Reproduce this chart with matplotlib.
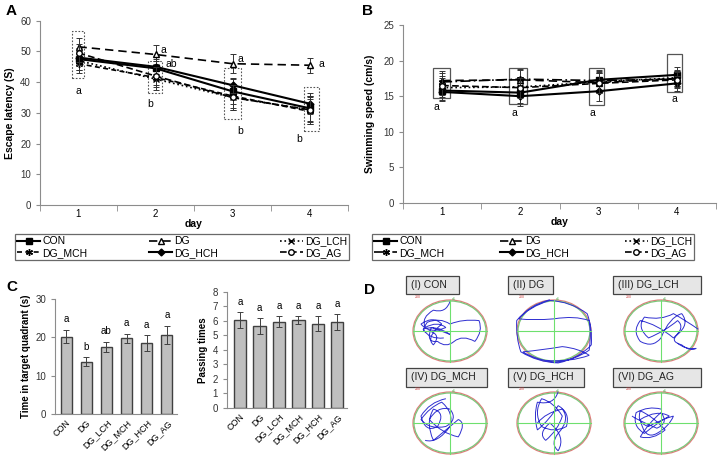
import matplotlib
matplotlib.use("Agg")
import matplotlib.pyplot as plt
from matplotlib.patches import Rectangle, Ellipse, PathPatch
from matplotlib.path import Path
import numpy as np

plt.rcParams['font.family'] = ['Liberation Sans', 'DejaVu Sans']

# ---------------- data ----------------
groups = ["CON", "DG", "DG_LCH", "DG_MCH", "DG_HCH", "DG_AG"]
days = [1, 2, 3, 4]

# Panel A: escape latency (s)
lat_con = [47.5, 44.5, 37.0, 31.5]
lat_dg = [51.5, 49.0, 46.0, 45.5]
lat_lch = [47.0, 41.0, 35.0, 31.0]
lat_mch = [46.0, 41.5, 35.5, 30.5]
lat_hch = [48.0, 45.0, 39.0, 33.0]
lat_ag = [49.5, 42.0, 35.0, 31.0]
lat_err_con = [3.5, 2.5, 4.0, 4.0]
lat_err_dg = [3.0, 3.0, 3.0, 2.5]
lat_err_lch = [3.0, 3.5, 4.0, 4.0]
lat_err_mch = [3.0, 3.0, 4.0, 4.0]
lat_err_hch = [2.5, 2.5, 2.5, 3.5]
lat_err_ag = [3.0, 3.0, 4.0, 4.5]

# Panel B: swimming speed (cm/s)
spd_con = [15.8, 15.5, 17.3, 18.0]
spd_dg = [17.2, 17.3, 16.9, 17.5]
spd_lch = [16.2, 16.3, 17.0, 17.6]
spd_mch = [17.0, 17.4, 17.2, 17.4]
spd_hch = [15.6, 15.0, 15.7, 16.8]
spd_ag = [16.5, 16.2, 16.8, 17.3]
spd_err = [1.3, 1.4, 1.4, 1.1]

# Panel C
time_target = [20.2, 13.6, 17.6, 19.8, 18.5, 20.6]
time_err = [1.8, 1.2, 1.3, 1.2, 2.0, 2.3]
time_letters = ["a", "b", "ab", "a", "a", "a"]
passing = [6.05, 5.65, 5.95, 6.05, 5.8, 5.92]
passing_err = [0.55, 0.55, 0.35, 0.25, 0.5, 0.55]
passing_letters = ["a", "a", "a", "a", "a", "a"]

# Panel D swim paths (normalised pool coordinates)
path_con = [(0.0,0.85),(-0.1,0.5),(-0.4,0.6),(-0.7,0.4),(-0.6,0.1),(-0.3,0.3),(-0.1,0.1),(-0.5,-0.1),
            (-0.7,0.2),(-0.4,0.45),(-0.2,0.2),(-0.6,-0.2),(-0.4,-0.4),(-0.2,-0.1),(-0.5,0.0),(-0.75,-0.1),
            (-0.55,0.25),(-0.25,0.4),(0.0,0.2),(0.3,0.35),(0.7,0.3),(0.8,0.0),(0.6,-0.3),(0.3,-0.1),
            (0.1,-0.3),(-0.1,-0.5),(-0.3,-0.3),(-0.6,-0.35),(-0.45,0.1),(-0.2,0.0),(0.0,-0.1),
            (-0.35,0.2),(-0.65,0.05),(-0.5,-0.25),(-0.15,-0.2)]
path_dg = [(-0.1,0.9),(-0.6,0.75),(-0.9,0.3),(-0.92,-0.2),(-0.8,-0.6),(-0.4,-0.9),(0.1,-0.92),(0.6,-0.8),
           (0.9,-0.4),(0.93,0.1),(0.8,0.5),(0.4,0.85),(-0.1,0.88),(-0.6,0.7),(-0.85,0.35),(-0.5,0.3),
           (0.0,0.35),(0.5,0.45),(0.85,0.3),(0.9,-0.1),(0.85,-0.55),(0.5,-0.85),(0.0,-0.9),(-0.5,-0.8),
           (-0.75,-0.6),(-0.3,-0.55),(0.2,-0.45),(0.6,-0.5),(0.85,-0.7),(0.4,-0.9),(-0.2,-0.85)]
path_lch = [(0.9,0.05),(0.6,0.3),(0.3,0.5),(0.0,0.3),(-0.4,0.4),(-0.6,0.1),(-0.3,-0.2),(0.1,0.0),
            (0.4,0.3),(0.6,0.1),(0.3,-0.2),(-0.1,0.2),(-0.5,0.3),(-0.7,0.0),(-0.5,-0.3),(-0.2,-0.5),
            (0.0,-0.2),(0.2,0.4),(0.5,0.5),(0.7,0.2),(0.4,-0.1),(0.2,-0.3),(0.5,-0.4),(0.7,-0.6),
            (0.85,-0.5),(0.6,-0.55),(0.4,-0.35)]
path_mch = [(-0.1,0.7),(-0.5,0.6),(-0.7,0.2),(-0.6,-0.3),(-0.3,-0.1),(-0.1,0.3),(-0.4,0.4),(-0.6,0.0),
            (-0.4,-0.5),(-0.1,-0.2),(0.2,0.1),(0.4,0.0),(0.2,-0.4),(-0.2,-0.3),(-0.5,0.1),(-0.3,0.5),
            (0.0,0.4),(0.2,0.1),(-0.1,-0.1),(-0.5,-0.2),(-0.7,0.1),(-0.5,0.45),(-0.2,0.6),(0.1,0.3),
            (0.0,-0.1),(-0.3,-0.6),(-0.6,-0.5)]
path_hch = [(0.1,0.9),(0.0,0.5),(-0.4,0.6),(-0.5,0.2),(-0.4,-0.2),(-0.1,0.1),(0.1,0.5),(0.4,0.3),
            (0.3,-0.1),(0.0,-0.3),(-0.3,-0.1),(-0.5,0.3),(-0.3,0.7),(0.0,0.6),(0.2,0.2),(0.1,-0.2),
            (-0.2,-0.5),(-0.4,-0.3),(-0.1,0.0),(0.3,-0.4),(0.1,-0.8),(-0.1,-0.6),(0.1,-0.3),(0.4,0.1),
            (0.2,0.4),(-0.2,0.3),(-0.4,0.0)]
path_ag = [(0.0,0.4),(-0.3,0.5),(-0.6,0.3),(-0.7,-0.1),(-0.4,-0.3),(-0.1,0.0),(0.2,0.2),(-0.1,0.4),
           (-0.5,0.1),(-0.4,-0.5),(-0.1,-0.3),(0.2,-0.1),(0.3,0.2),(0.0,0.1),(-0.3,-0.1),(-0.6,0.0),
           (-0.5,0.35),(-0.2,0.2),(0.1,-0.2),(-0.2,-0.5),(-0.5,-0.4),(-0.3,0.0),(0.0,0.3),(0.2,0.0),
           (-0.1,-0.15),(-0.6,0.1),(-0.7,0.2)]
panel_titles = ["(I) CON", "(II) DG", "(III) DG_LCH", "(IV) DG_MCH", "(V) DG_HCH", "(VI) DG_AG"]

# ---------------- figure ----------------
W, H = 719, 458
fig = plt.figure(figsize=(W/100, H/100), dpi=100)

def ax_px(l, t, r, b):
    return fig.add_axes([l/W, 1-b/H, (r-l)/W, (b-t)/H])

SP = '#8c8c8c'
styles = [
    dict(ls='-', marker='s', mfc='black', mec='black', ms=5, lw=1.5),
    dict(ls=(0, (5, 3)), marker='^', mfc='white', mec='black', ms=5, lw=1.2),
    dict(ls=':', marker='x', mfc='black', mec='black', ms=4, lw=1.2),
    dict(ls=(0, (3, 2)), marker=(6, 2, 0), mfc='black', mec='black', ms=5, lw=1.2),
    dict(ls='-', marker='D', mfc='black', mec='black', ms=3.5, lw=1.5),
    dict(ls=(0, (4, 2)), marker='o', mfc='white', mec='black', ms=4, lw=1.2),
]
styles_b = [dict(s) for s in styles]
styles_b[3]['ls'] = (0, (6, 2, 1, 2))

def style_line_axes(ax, ymax, ystep):
    ax.set_xlim(0.5, 4.5)
    ax.set_ylim(0, ymax)
    ax.set_yticks(np.arange(0, ymax + 0.1, ystep))
    ax.set_xticks(days)
    ax.set_xticks([0.5, 1.5, 2.5, 3.5, 4.5], minor=True)
    ax.tick_params(axis='x', which='major', length=0, labelsize=7, pad=3)
    ax.tick_params(axis='x', which='minor', length=4, color=SP, direction='out')
    ax.tick_params(axis='y', length=3, color=SP, labelsize=7, labelcolor='#333333')
    for s in ['top', 'right']:
        ax.spines[s].set_visible(False)
    for s in ['left', 'bottom']:
        ax.spines[s].set_color(SP)
        ax.spines[s].set_linewidth(0.8)
    ax.set_xlabel('day', fontsize=7.5, fontweight='bold', labelpad=0)

# ---- Panel A ----
axA = ax_px(40, 20.7, 348, 205)
lat = [lat_con, lat_dg, lat_lch, lat_mch, lat_hch, lat_ag]
lat_err = [lat_err_con, lat_err_dg, lat_err_lch, lat_err_mch, lat_err_hch, lat_err_ag]
handles = []
for g, v, e, st in zip(groups, lat, lat_err, styles):
    axA.errorbar(days, v, yerr=e, fmt='none', ecolor='#333333', elinewidth=0.7, capsize=2, capthick=0.7)
    h, = axA.plot(days, v, color='black', label=g, **st)
    handles.append(h)
style_line_axes(axA, 60, 10)
axA.set_ylabel('Escape latency (S)', fontsize=7.5, fontweight='bold', labelpad=4)
boxesA = [(0.92, 1.07, 41.5, 56.5), (1.90, 2.08, 36.5, 47.0), (2.89, 3.11, 28.0, 44.7), (3.93, 4.12, 24.0, 38.5)]
for x0, x1, y0, y1 in boxesA:
    axA.add_patch(Rectangle((x0, y0), x1-x0, y1-y0, fill=False, ls=(0, (1.5, 1.5)), ec='#555555', lw=0.8))
lettersA = [(1.0, 37.0, 'a'), (2.1, 50.5, 'a'), (2.2, 46.0, 'ab'), (1.93, 33.0, 'b'),
            (3.1, 47.5, 'a'), (3.1, 24.0, 'b'), (4.15, 46.0, 'a'), (3.87, 21.5, 'b')]
for x, y, t in lettersA:
    axA.text(x, y, t, fontsize=7.5, ha='center', va='center')
fig.text(6/W, 1-11/H, 'A', fontsize=11, fontweight='bold', va='center', ha='left')

# ---- Panel B ----
axB = ax_px(403, 25, 716, 203)
spd = [spd_con, spd_dg, spd_lch, spd_mch, spd_hch, spd_ag]
handles_b = []
for g, v, st in zip(groups, spd, styles_b):
    axB.errorbar(days, v, yerr=spd_err, fmt='none', ecolor='#333333', elinewidth=0.7, capsize=2, capthick=0.7)
    h, = axB.plot(days, v, color='black', label=g, **st)
    handles_b.append(h)
style_line_axes(axB, 25, 5)
axB.set_ylabel('Swimming speed (cm/s)', fontsize=7.5, fontweight='bold', labelpad=6)
boxesB = [(0.88, 1.1, 14.75, 19.0), (1.85, 2.08, 13.9, 19.0), (2.88, 3.07, 13.8, 19.0), (3.88, 4.07, 15.6, 20.9)]
for x0, x1, y0, y1 in boxesB:
    axB.add_patch(Rectangle((x0, y0), x1-x0, y1-y0, fill=False, ls='-', ec='#555555', lw=0.9))
lettersB = [(0.93, 13.5, 'a'), (1.92, 12.6, 'a'), (2.92, 12.6, 'a'), (3.97, 14.6, 'a')]
for x, y, t in lettersB:
    axB.text(x, y, t, fontsize=7.5, ha='center', va='center')
fig.text(362/W, 1-11/H, 'B', fontsize=11, fontweight='bold', va='center', ha='left')

# ---- Legends ----
order = [0, 3, 1, 4, 2, 5]
for hs, (l, t, r, b) in [(handles, (15, 233, 349, 261)), (handles_b, (372, 233, 694, 261))]:
    leg = fig.legend([hs[i] for i in order], [groups[i] for i in order], ncol=3, loc='center',
                     bbox_to_anchor=(l/W, 1-b/H, (r-l)/W, (b-t)/H), mode='expand', borderaxespad=0,
                     fontsize=7.5, frameon=True, fancybox=False, handlelength=2.2, handletextpad=0.2,
                     labelspacing=0.15, borderpad=0.2, columnspacing=1.0)
    leg.get_frame().set_edgecolor('#444444')
    leg.get_frame().set_linewidth(0.9)

# ---- Panel C ----
def bar_axes(l, t, r, b, vals, errs, letters, ymax, yticks, xlim, width, ylabel, letter_off):
    ax = ax_px(l, t, r, b)
    x = np.arange(len(groups))
    ax.bar(x, vals, width=width, color='#bfbfbf', edgecolor='#404040', linewidth=1.0, zorder=2)
    ax.errorbar(x, vals, yerr=errs, fmt='none', ecolor='#404040', elinewidth=0.7, capsize=2, capthick=0.7, zorder=3)
    for xi, v, e, t_ in zip(x, vals, errs, letters):
        ax.text(xi, v + e + letter_off, t_, ha='center', va='bottom', fontsize=7)
    ax.set_xlim(*xlim)
    ax.set_ylim(0, ymax)
    ax.set_yticks(yticks)
    ax.set_xticks(x)
    ax.set_xticklabels(groups, rotation=45, ha='right', rotation_mode='anchor', fontsize=6.5)
    ax.tick_params(axis='x', length=0, pad=3)
    ax.tick_params(axis='y', length=3, color=SP, labelsize=7, labelcolor='#333333')
    for s in ['top', 'right']:
        ax.spines[s].set_visible(False)
    for s in ['left', 'bottom']:
        ax.spines[s].set_color(SP)
        ax.spines[s].set_linewidth(0.8)
    ax.set_ylabel(ylabel, fontsize=7, fontweight='bold', labelpad=3)
    return ax

bar_axes(55, 299, 177, 414, time_target, time_err, time_letters, 30, [0, 10, 20, 30], (-0.55, 5.5), 0.55,
         'Time in target quadrant (s)', 1.5)
bar_axes(227, 291.7, 347, 408, passing, passing_err, passing_letters, 8, np.arange(0, 9), (-0.67, 5.49), 0.62,
         'Passing times', 0.35)
fig.text(6/W, 1-287/H, 'C', fontsize=11, fontweight='bold', va='center', ha='left')

# ---- Panel D ----
axD = ax_px(360, 270, 719, 458)
axD.set_xlim(360, 719)
axD.set_ylim(458, 270)
axD.axis('off')
fig.text(364/W, 1-290/H, 'D', fontsize=11, fontweight='bold', va='center', ha='left')

label_boxes = [(406, 459, 276, 294), (508, 553, 276, 294), (613, 701, 276, 294),
               (406, 487, 368, 387), (508, 584, 368, 387), (613, 701, 368, 387)]
centers = [(450, 331), (554, 331), (661, 331), (450, 423), (554, 423), (661, 423)]
paths = [path_con, path_dg, path_lch, path_mch, path_hch, path_ag]
rx, ry = 37, 31
for (l, r, t, b), title, (cx, cy), pts in zip(label_boxes, panel_titles, centers, paths):
    axD.add_patch(Rectangle((l, t), r-l, b-t, facecolor='#e6e6e6', edgecolor='#444444', lw=0.9))
    axD.text(l + 5, (t+b)/2, title, fontsize=7.5, ha='left', va='center', color='#222222')
    axD.add_patch(Ellipse((cx, cy), 2*rx, 2*ry, fill=False, ec='#e07a7a', lw=0.9))
    axD.add_patch(Ellipse((cx, cy), 2*rx-2, 2*ry-2, fill=False, ec='#7ac77a', lw=0.9))
    axD.plot([cx, cx], [cy-ry, cy+ry], color='#6ee06e', lw=0.8)
    axD.plot([cx-rx, cx+rx], [cy, cy], color='#6ee06e', lw=0.8)
    axD.text(cx-rx+2, cy-ry-1, '200', fontsize=2.5, color='#cc4444', ha='left', va='bottom')
    axD.text(cx+2, cy-ry+1, 'a1', fontsize=2.5, color='#44aa44', ha='left', va='bottom')
    n = len(pts) if (len(pts)-1) % 2 == 0 else len(pts)-1
    k = 1.12
    verts = [(cx + x*rx*k, cy - y*ry*k) for x, y in pts[:n]]
    codes = [Path.MOVETO] + [Path.CURVE3]*(n-1)
    axD.add_patch(PathPatch(Path(verts, codes), fill=False, ec='#2f2fd0', lw=0.7))

fig.savefig('out.png', dpi=100)
